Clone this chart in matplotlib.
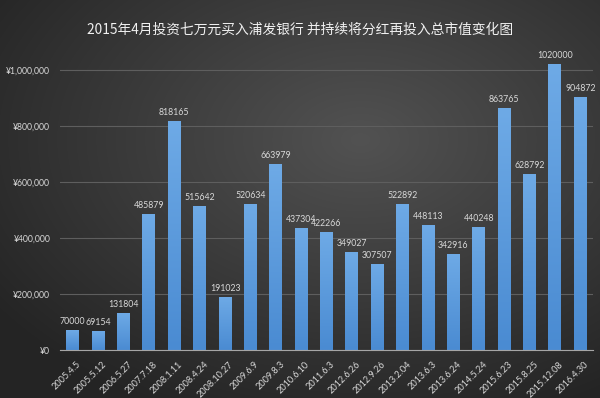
import numpy as np
import matplotlib
matplotlib.use("Agg")
import matplotlib.pyplot as plt
from matplotlib.ticker import FuncFormatter
from matplotlib.colors import LinearSegmentedColormap
import matplotlib.transforms as mtransforms

plt.rcParams['font.family'] = ['Lato', 'Noto Sans CJK SC', 'DejaVu Sans']

title = "2015年4月投资七万元买入浦发银行 并持续将分红再投入总市值变化图"
dates = ["2005.4.5", "2005.5.12", "2006.5.27", "2007.7.18", "2008.1.11", "2008.4.24",
         "2008.10.27", "2009.6.9", "2009.8.3", "2010.6.10", "2011.6.3", "2012.6.26",
         "2012.9.26", "2013.2.04", "2013.6.3", "2013.6.24", "2014.5.24", "2015.6.23",
         "2015.8.25", "2015.12.08", "2016.4.30"]
values = [70000, 69154, 131804, 485879, 818165, 515642, 191023, 520634, 663979,
          437304, 422266, 349027, 307507, 522892, 448113, 342916, 440248, 863765,
          628792, 1020000, 904872]
yticks = [0, 200000, 400000, 600000, 800000, 1000000]

W, H = 600, 398
fig = plt.figure(figsize=(W / 100, H / 100), dpi=100)

# radial dark background
bg = fig.add_axes([0, 0, 1, 1])
yy, xx = np.mgrid[0:H, 0:W]
cx, cy = 0.6 * W, 0.35 * H
r = np.sqrt(((xx - cx) / W) ** 2 + ((yy - cy) / H) ** 2)
r = np.clip(r / 0.75, 0, 1)
light = np.array([0x52, 0x52, 0x52]) / 255
dark = np.array([0x24, 0x24, 0x24]) / 255
img = light[None, None, :] * (1 - r[..., None]) + dark[None, None, :] * r[..., None]
bg.imshow(img, extent=[0, 1, 0, 1], aspect='auto', origin='upper')
bg.axis('off')

left, right = 60 / W, 593 / W
bottom = 1 - 350 / H
top_px = 350 - 1050000 * 0.00028
ax = fig.add_axes([left, bottom, right - left, (350 - top_px) / H])
ax.patch.set_alpha(0)

x = np.arange(len(values))
bars = ax.bar(x, values, width=0.51, color='#5b9bd5', zorder=2)
grad = np.linspace(0, 1, 100)[:, None]
cmap = LinearSegmentedColormap.from_list('b', ['#6eaae6', '#4a8bd2'])
for b in bars:
    bx, by = b.get_x(), b.get_y()
    bw, bh = b.get_width(), b.get_height()
    im = ax.imshow(grad, extent=[bx, bx + bw, by, by + bh], aspect='auto',
                   cmap=cmap, origin='upper', zorder=3)
    im.set_clip_path(b)

for xi, v in zip(x, values):
    ax.text(xi, v + 14000, f"{v}", ha='center', va='bottom', fontsize=6.3,
            color='#d9d9d9', zorder=4)

ax.set_xlim(-0.5, len(values) - 0.5)
ax.set_ylim(0, 1050000)
ax.set_yticks(yticks)
ax.yaxis.set_major_formatter(FuncFormatter(lambda v, p: f"¥{int(v):,}"))
ax.set_xticks(x)
ax.set_xticklabels(dates, rotation=45, ha='right', rotation_mode='anchor')
ax.tick_params(axis='x', length=0, colors='#d9d9d9', labelsize=6.6, pad=7)
ax.tick_params(axis='y', length=0, colors='#d9d9d9', labelsize=6.2, pad=7)
offset = mtransforms.ScaledTranslation(4 / 100, 0, fig.dpi_scale_trans)
for lbl in ax.get_xticklabels():
    lbl.set_transform(lbl.get_transform() + offset)
ax.grid(axis='y', color='#5e5e5e', linewidth=0.8, zorder=1)
for s in ['top', 'right', 'left']:
    ax.spines[s].set_visible(False)
ax.spines['bottom'].set_color('#a6a6a6')
ax.spines['bottom'].set_linewidth(0.8)
ax.spines['bottom'].set_zorder(5)

fig.text(0.5, 1 - 30 / H, title, ha='center', va='center', fontsize=9.9,
         color='#f0f0f0', family=['Noto Sans CJK SC', 'DejaVu Sans'])

fig.savefig("out.png", dpi=100)
